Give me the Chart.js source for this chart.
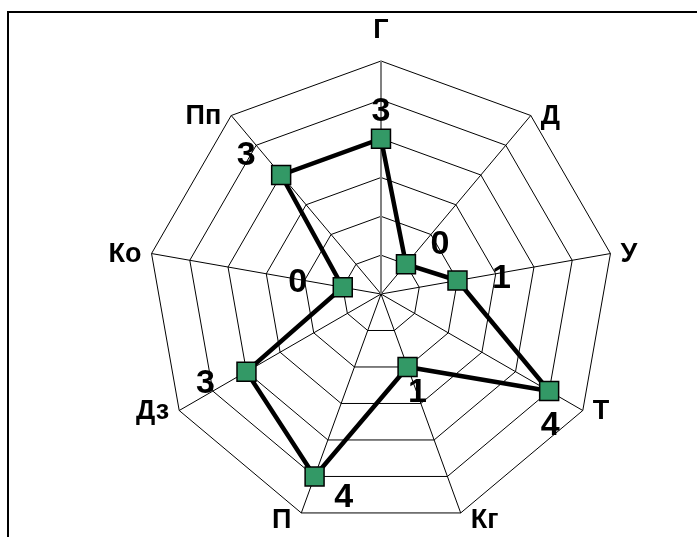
<!DOCTYPE html>
<html>
<head>
<meta charset="utf-8">
<script src="https://cdn.jsdelivr.net/npm/chart.js@4/dist/chart.umd.min.js"></script>
<style>
  html, body { margin: 0; padding: 0; background: #fff; overflow: hidden; }
  #wrap { position: relative; width: 697px; height: 537px; }
  #frame {
    position: absolute; left: 7px; top: 11px; width: 800px; height: 600px;
    border-top: 2px solid #000; border-left: 2px solid #000; pointer-events: none;
  }
  canvas { position: absolute; left: 0; top: 0; }
</style>
</head>
<body>
<div id="wrap">
  <canvas id="radar" width="697" height="537"></canvas>
  <div id="frame"></div>
</div>
<script>
// Данные диаграммы
const categories = ['Г', 'Д', 'У', 'Т', 'Кг', 'П', 'Дз', 'Ко', 'Пп'];
const scores = [3, 0, 1, 4, 1, 4, 3, 0, 3];
const axisMin = -1;
const axisMax = 5;
const axisStep = 1;

// Стиль: сдвиг подписей значений относительно маркера (px)
const labelShift = [[0, -27], [34, -20], [44, -2], [1, 35], [10, 26], [29, 21], [-41, 12], [-45, -5], [-35, -19]];
const FONT = '"Liberation Sans", Arial, sans-serif';

// подписи значений у каждой точки
const valueLabels = {
  id: 'valueLabels',
  afterDatasetsDraw(chart) {
    const ctx = chart.ctx;
    const meta = chart.getDatasetMeta(0);
    ctx.save();
    ctx.font = 'bold 34px ' + FONT;
    ctx.fillStyle = '#000';
    ctx.textAlign = 'center';
    ctx.textBaseline = 'middle';
    meta.data.forEach((pt, i) => {
      const sh = labelShift[i] || [0, 0];
      ctx.fillText(String(chart.data.datasets[0].data[i]), pt.x + sh[0], pt.y + sh[1]);
    });
    ctx.restore();
  }
};

// названия осей у вершин внешнего многоугольника
const axisNames = {
  id: 'axisNames',
  afterDraw(chart) {
    const ctx = chart.ctx;
    const scale = chart.scales.r;
    ctx.save();
    ctx.font = 'bold 27px ' + FONT;
    ctx.fillStyle = '#000';
    chart.data.labels.forEach((lab, i) => {
      const p = scale.getPointPosition(i, scale.drawingArea);
      const a = scale.getIndexAngle(i);
      const s = Math.sin(a), c = Math.cos(a);
      if (Math.abs(s) < 0.05) {
        ctx.textAlign = 'center';
        ctx.textBaseline = 'alphabetic';
        ctx.fillText(lab, p.x, p.y - 23);
        return;
      }
      ctx.textAlign = s > 0 ? 'left' : 'right';
      ctx.textBaseline = 'middle';
      ctx.fillText(lab, p.x + (s > 0 ? 10 : -10), p.y + (c < -0.9 ? 8 : 1));
    });
    ctx.restore();
  }
};

new Chart(document.getElementById('radar'), {
  type: 'radar',
  data: {
    labels: categories,
    datasets: [{
      data: scores,
      borderColor: '#000',
      borderWidth: 4.5,
      fill: false,
      tension: 0,
      pointStyle: 'rect',
      pointRadius: 13.4,
      pointHoverRadius: 13.4,
      pointBackgroundColor: '#339966',
      pointBorderColor: '#000',
      pointBorderWidth: 1.5
    }]
  },
  options: {
    responsive: false,
    animation: false,
    layout: { padding: { left: 148, right: 83, top: 61, bottom: 10 } },
    plugins: { legend: { display: false }, tooltip: { enabled: false } },
    scales: {
      r: {
        min: axisMin,
        max: axisMax,
        ticks: { stepSize: axisStep, display: false },
        grid: { color: '#000', lineWidth: 1, circular: false },
        angleLines: {
          color: (ctx) => ctx.index === 0 ? '#808080' : '#000',
          lineWidth: (ctx) => ctx.index === 0 ? 2 : 1
        },
        pointLabels: { display: false }
      }
    }
  },
  plugins: [valueLabels, axisNames]
});
</script>
</body>
</html>
